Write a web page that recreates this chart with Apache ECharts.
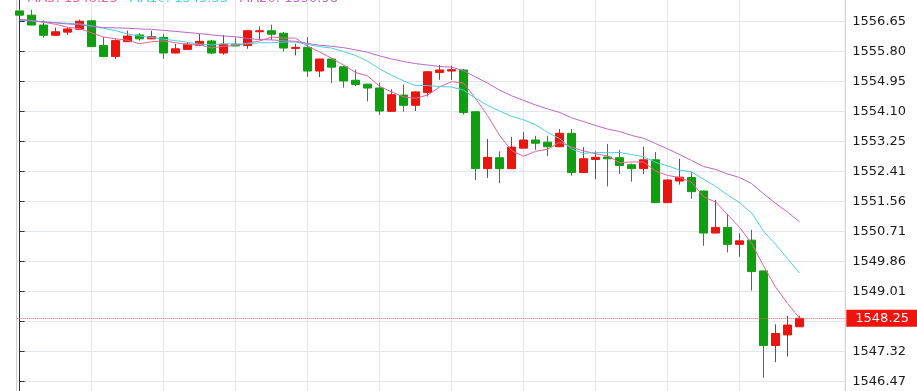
<!DOCTYPE html>
<html>
<head>
<meta charset="utf-8">
<script src="https://cdn.jsdelivr.net/npm/echarts@6/dist/echarts.min.js"></script>
<style>
html,body{margin:0;padding:0;background:#fff;overflow:hidden}
#c{width:917px;height:391px}
</style>
</head>
<body>
<div id="c"></div>
<script>
// ---- data (one candle per minute, index 0..65) ----
const opens = [
1556.94,1556.82,1556.54,1556.25,1556.34,1556.42,1556.66,1555.96,1555.65,1556.07,
1556.26,1556.15,1556.19,1555.75,1555.85,1555.97,1556.09,1555.75,1556.00,1555.96,
1556.35,1556.38,1556.31,1555.88,1555.91,1555.24,1555.58,1555.36,1554.98,1554.87,
1554.76,1554.10,1554.56,1554.27,1554.63,1555.20,1555.24,1555.27,1554.09,1552.48,
1552.79,1552.48,1553.06,1553.29,1553.23,1553.10,1553.48,1552.37,1552.74,1552.81,
1552.79,1552.59,1552.48,1552.73,1551.52,1552.13,1552.23,1551.85,1550.66,1550.82,
1550.34,1550.46,1549.59,1547.48,1547.78,1548.01];
const closes = [
1556.82,1556.54,1556.25,1556.35,1556.43,1556.65,1555.93,1555.65,1556.10,1556.23,
1556.15,1556.21,1555.75,1555.87,1556.00,1556.08,1555.75,1556.00,1555.95,1556.38,
1556.38,1556.28,1555.89,1555.91,1555.24,1555.58,1555.35,1554.96,1554.86,1554.76,
1554.11,1554.57,1554.27,1554.65,1555.22,1555.27,1555.28,1554.07,1552.48,1552.80,
1552.48,1553.09,1553.29,1553.20,1553.10,1553.48,1552.37,1552.76,1552.80,1552.76,
1552.57,1552.48,1552.73,1551.52,1552.16,1552.24,1551.83,1550.66,1550.82,1550.34,
1550.44,1549.57,1547.48,1547.82,1548.06,1548.25];
const lows = [
1556.80,1556.53,1556.19,1556.24,1556.26,1556.42,1555.92,1555.63,1555.58,1556.07,
1556.10,1556.14,1555.58,1555.74,1555.84,1555.96,1555.72,1555.70,1555.94,1555.87,
1556.12,1556.12,1555.79,1555.68,1555.08,1555.07,1554.90,1554.77,1554.82,1554.38,
1554.00,1554.10,1554.09,1554.11,1554.52,1554.99,1554.99,1554.01,1552.16,1552.22,
1552.07,1552.47,1553.06,1553.01,1552.84,1553.09,1552.28,1552.36,1552.18,1551.98,
1552.33,1552.11,1552.33,1551.51,1551.51,1552.03,1551.63,1550.30,1550.65,1550.11,
1549.99,1549.03,1546.57,1547.01,1547.17,1548.01];
const highs = [
1556.99,1556.97,1556.67,1556.47,1556.47,1556.69,1556.69,1556.20,1556.14,1556.38,
1556.31,1556.38,1556.29,1556.01,1556.06,1556.29,1556.12,1556.26,1556.19,1556.39,
1556.50,1556.55,1556.34,1556.01,1556.20,1555.59,1555.60,1555.39,1555.28,1554.88,
1554.91,1554.72,1554.86,1554.67,1555.23,1555.41,1555.39,1555.30,1554.10,1553.32,
1552.97,1553.38,1553.51,1553.41,1553.41,1553.60,1553.60,1553.09,1552.97,1553.18,
1553.01,1552.63,1553.10,1552.95,1552.18,1552.76,1552.39,1551.86,1551.60,1551.20,
1550.65,1550.75,1549.60,1548.08,1548.32,1548.32];
const ma5 = [
1556.70,1556.67,1556.62,1556.56,1556.48,1556.44,1556.32,1556.20,1556.15,1556.11,
1556.01,1556.07,1556.09,1556.04,1555.99,1555.98,1555.89,1555.94,1555.96,1556.03,
1556.09,1556.20,1556.17,1556.17,1555.94,1555.78,1555.60,1555.41,1555.20,1555.10,
1554.81,1554.65,1554.51,1554.47,1554.56,1554.79,1554.94,1554.90,1554.46,1553.98,
1553.42,1552.99,1552.83,1552.97,1553.03,1553.23,1553.09,1552.98,1552.90,1552.84,
1552.65,1552.67,1552.67,1552.41,1552.29,1552.23,1552.10,1551.68,1551.54,1551.18,
1550.82,1550.37,1549.73,1549.13,1548.67,1548.25];
const ma10 = [
1556.68,1556.66,1556.63,1556.61,1556.59,1556.57,1556.52,1556.45,1556.38,1556.29,
1556.23,1556.19,1556.14,1556.10,1556.05,1556.00,1555.98,1556.01,1556.00,1556.01,
1556.04,1556.04,1556.06,1556.06,1555.99,1555.93,1555.89,1555.79,1555.68,1555.52,
1555.30,1555.12,1554.96,1554.83,1554.83,1554.80,1554.79,1554.70,1554.47,1554.27,
1554.11,1553.96,1553.86,1553.72,1553.51,1553.33,1553.04,1552.91,1552.94,1552.93,
1552.94,1552.88,1552.82,1552.66,1552.56,1552.44,1552.39,1552.18,1551.98,1551.74,
1551.52,1551.23,1550.71,1550.34,1549.93,1549.53];
const ma20 = [
1556.69,1556.66,1556.63,1556.60,1556.57,1556.55,1556.50,1556.47,1556.46,1556.45,
1556.43,1556.42,1556.39,1556.36,1556.33,1556.30,1556.26,1556.23,1556.21,1556.16,
1556.13,1556.12,1556.10,1556.08,1556.02,1555.97,1555.94,1555.90,1555.84,1555.77,
1555.67,1555.58,1555.51,1555.45,1555.41,1555.37,1555.35,1555.25,1555.07,1554.90,
1554.70,1554.54,1554.41,1554.28,1554.17,1554.07,1553.92,1553.81,1553.70,1553.60,
1553.53,1553.42,1553.34,1553.19,1553.04,1552.88,1552.71,1552.54,1552.46,1552.33,
1552.23,1552.06,1551.77,1551.50,1551.25,1550.98];
// vertical grid positions (candle index) and price-axis tick spacing
const gridIdx = [0, 6, 12, 18, 24, 30, 36, 42, 48, 54, 60];
const Y_STEP = 0.8481;
const Y_MIN = 1545.6209;
const Y_MAX = 1557.4943;
const X_MIN = -0.2417;
const X_MAX = 68.81;

// ---- styling ----
const FONT = 'DejaVu Sans';
const RED = '#f2120c';
const GREEN = '#0aa20a';
const C5 = '#f06292', C10 = '#4dd0e1', C20 = '#ba68c8';
const GRIDC = '#e2e7ee';

const idx = opens.map((_, i) => i);
const lastPrice = closes[closes.length - 1];
const last = a => a[a.length - 1].toFixed(2);

const chart = echarts.init(document.getElementById('c'), null, {renderer: 'canvas'});
chart.setOption({
  animation: false,
  backgroundColor: '#fff',
  grid: {
    left: 16.7, right: 71.7, top: -8.7, bottom: -20.3,
    show: true, borderColor: '#c8c8c8', borderWidth: 1,
    containLabel: false, outerBoundsMode: 'none'
  },
  xAxis: {
    type: 'value', min: X_MIN, max: X_MAX,
    axisLine: {show: false}, axisTick: {show: false},
    axisLabel: {show: false}, splitLine: {show: false}
  },
  yAxis: {
    type: 'value', position: 'right',
    min: Y_MIN, max: Y_MAX, interval: Y_STEP,
    axisLine: {show: true, lineStyle: {color: '#333', width: 1}},
    axisTick: {show: true, length: 5, inside: false, lineStyle: {color: '#333'}},
    axisLabel: {
      margin: 7, color: '#1a1a1a', fontFamily: FONT, fontSize: 13,
      padding: [4, 0, 0, 0],
      formatter: v => v.toFixed(2)
    },
    splitLine: {show: true, lineStyle: {color: GRIDC, width: 1}}
  },
  graphic: [
    {type: 'text', x: 27, y: 5, silent: true,
     style: {text: 'MA5: ' + last(ma5), fill: C5, font: '13px "DejaVu Sans"', verticalAlign: 'bottom', textVerticalAlign: 'bottom'}},
    {type: 'text', x: 129, y: 5, silent: true,
     style: {text: 'MA10: ' + last(ma10), fill: C10, font: '13px "DejaVu Sans"', verticalAlign: 'bottom', textVerticalAlign: 'bottom'}},
    {type: 'text', x: 239, y: 5, silent: true,
     style: {text: 'MA20: ' + last(ma20), fill: C20, font: '13px "DejaVu Sans"', verticalAlign: 'bottom', textVerticalAlign: 'bottom'}}
  ],
  series: [
    {
      name: 'grid', type: 'line', data: [], z: 0, silent: true,
      markLine: {
        silent: true, z: 0, symbol: ['none', 'none'], animation: false,
        label: {show: false},
        lineStyle: {color: GRIDC, type: 'solid', width: 1},
        data: gridIdx.map(v => ({xAxis: v}))
      }
    },
    {
      name: 'K', type: 'candlestick',
      data: idx.map(i => [i, opens[i], closes[i], lows[i], highs[i]]),
      barWidth: 9,
      itemStyle: {color: RED, color0: GREEN, borderColor: RED, borderColor0: GREEN, borderWidth: 1},
      markLine: {
        silent: true, symbol: ['none', 'none'], animation: false,
        data: [{yAxis: lastPrice}],
        lineStyle: {color: '#f25a5a', type: 'dotted', width: 1},
        label: {
          show: true, position: 'end', distance: 1,
          formatter: p => Number(p.value).toFixed(2),
          color: '#fff', backgroundColor: RED,
          fontFamily: FONT, fontSize: 13, lineHeight: 13,
          padding: [2, 14, 2, 9]
        }
      }
    },
    {name: 'MA5', type: 'line', data: idx.map(i => [i, ma5[i]]), symbol: 'none', showSymbol: false,
     z: 3, lineStyle: {color: C5, width: 1}},
    {name: 'MA10', type: 'line', data: idx.map(i => [i, ma10[i]]), symbol: 'none', showSymbol: false,
     z: 3, lineStyle: {color: C10, width: 1}},
    {name: 'MA20', type: 'line', data: idx.map(i => [i, ma20[i]]), symbol: 'none', showSymbol: false,
     z: 3, lineStyle: {color: C20, width: 1}}
  ]
});
</script>
</body>
</html>
